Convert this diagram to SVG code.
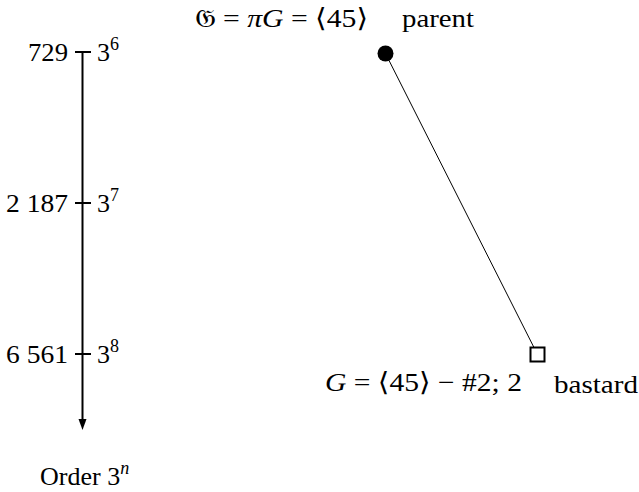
<svg xmlns="http://www.w3.org/2000/svg" width="639" height="492" viewBox="0 0 639 492">
<style>
text{font-family:"Liberation Serif","DejaVu Serif",serif;font-size:26px;fill:#000}
.sup{font-size:18px}
.it{font-style:italic}
.ax{stroke:#000;stroke-width:2;fill:none}
</style>
<g id="axis">
<line class="ax" x1="82.5" y1="52" x2="82.5" y2="421"/>
<path d="M78.5,419 L86.5,419 L82.5,430 Z" fill="#000"/>
<line class="ax" x1="75" y1="52" x2="91" y2="52"/>
<line class="ax" x1="75" y1="203" x2="91" y2="203"/>
<line class="ax" x1="75" y1="354" x2="91" y2="354"/>
<text x="68" y="61" text-anchor="end" textLength="40" lengthAdjust="spacingAndGlyphs">729</text>
<text x="97" y="61">3<tspan class="sup" dy="-11">6</tspan></text>
<text x="68" y="212" text-anchor="end" textLength="62" lengthAdjust="spacingAndGlyphs">2 187</text>
<text x="97" y="212">3<tspan class="sup" dy="-11">7</tspan></text>
<text x="68" y="363" text-anchor="end" textLength="62" lengthAdjust="spacingAndGlyphs">6 561</text>
<text x="97" y="363">3<tspan class="sup" dy="-11">8</tspan></text>
<text x="40" y="485">Order 3<tspan class="sup it" dy="-11">n</tspan></text>
</g>
<g id="connectors">
<line x1="385.5" y1="53.5" x2="537.5" y2="354.5" stroke="#000" stroke-width="1"/>
</g>
<g id="parent">
<circle cx="385.5" cy="53.5" r="8" fill="#000"/>
<text x="195" y="27" textLength="173" lengthAdjust="spacingAndGlyphs">𝔊 = <tspan class="it">πG</tspan> = ⟨45⟩</text>
<text x="402" y="27" textLength="72" lengthAdjust="spacingAndGlyphs">parent</text>
</g>
<g id="bastard">
<rect x="530.5" y="347.5" width="14" height="14" fill="#fff" stroke="#000" stroke-width="2"/>
<text x="325" y="391" textLength="197" lengthAdjust="spacingAndGlyphs"><tspan class="it">G</tspan> = ⟨45⟩ − #2; 2</text>
<text x="554" y="393" textLength="84" lengthAdjust="spacingAndGlyphs">bastard</text>
</g>
</svg>
